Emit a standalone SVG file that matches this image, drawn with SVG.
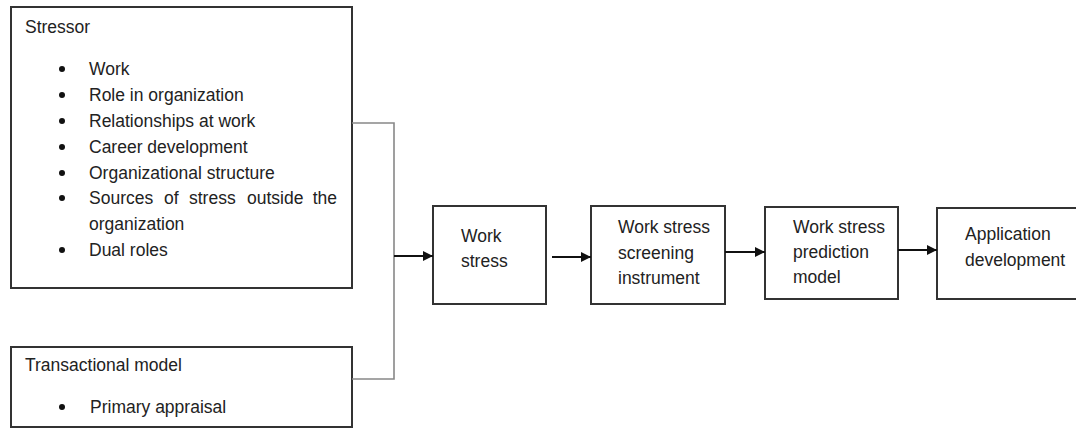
<svg xmlns="http://www.w3.org/2000/svg" width="1076" height="428" viewBox="0 0 1076 428">
<style>
text{font-family:"Liberation Sans",Arial,sans-serif;font-size:17.5px;fill:#222}
.box{fill:#fff;stroke:#333;stroke-width:2}
.bul{fill:#111}
.flow{stroke:#111;stroke-width:2;fill:none}
.join{stroke:#888;stroke-width:1.6;fill:none}
</style>
<defs>
<marker id="ah" markerUnits="userSpaceOnUse" markerWidth="11" markerHeight="11" refX="10" refY="5" orient="auto">
<path d="M0,0 L10,5 L0,10 z" fill="#111"/>
</marker>
</defs>
<rect width="1076" height="428" fill="#fff"/>
<g id="stressor">
<rect class="box" x="11" y="7" width="341" height="281"/>
<text x="25" y="33">Stressor</text>
<circle class="bul" cx="62" cy="69" r="3"/><text x="89" y="75">Work</text>
<circle class="bul" cx="62" cy="95" r="3"/><text x="89" y="101">Role in organization</text>
<circle class="bul" cx="62" cy="121" r="3"/><text x="89" y="127">Relationships at work</text>
<circle class="bul" cx="62" cy="147" r="3"/><text x="89" y="153">Career development</text>
<circle class="bul" cx="62" cy="173" r="3"/><text x="89" y="179">Organizational structure</text>
<circle class="bul" cx="62" cy="198" r="3"/><text x="89" y="204">Sources</text><text x="164" y="204">of</text><text x="189" y="204">stress</text><text x="247" y="204">outside</text><text x="337" y="204" text-anchor="end">the</text>
<text x="89" y="230">organization</text>
<circle class="bul" cx="62" cy="250" r="3"/><text x="89" y="256">Dual roles</text>
</g>
<g id="transactional">
<rect class="box" x="11" y="347" width="341" height="80"/>
<text x="25" y="371">Transactional model</text>
<circle class="bul" cx="62" cy="407" r="3"/><text x="90" y="413">Primary appraisal</text>
</g>
<g id="workstress">
<rect class="box" x="433" y="206" width="113" height="98"/>
<text x="461" y="242">Work</text>
<text x="461" y="267">stress</text>
</g>
<g id="screening">
<rect class="box" x="591" y="206" width="134" height="98"/>
<text x="618" y="233">Work stress</text>
<text x="618" y="259">screening</text>
<text x="618" y="284">instrument</text>
</g>
<g id="prediction">
<rect class="box" x="765" y="207" width="133" height="92"/>
<text x="793" y="233">Work stress</text>
<text x="793" y="258">prediction</text>
<text x="793" y="283">model</text>
</g>
<g id="application">
<rect class="box" x="937" y="208" width="145" height="91"/>
<text x="965" y="240">Application</text>
<text x="965" y="266">development</text>
</g>
<g id="connectors">
<polyline class="join" points="352,123 394,123 394,379 352,379"/>
<line class="flow" x1="394" y1="256" x2="433" y2="256" marker-end="url(#ah)"/>
<line class="flow" x1="552" y1="257" x2="591" y2="257" marker-end="url(#ah)"/>
<line class="flow" x1="725" y1="252" x2="765" y2="252" marker-end="url(#ah)"/>
<line class="flow" x1="898" y1="250" x2="937" y2="250" marker-end="url(#ah)"/>
</g>
</svg>
